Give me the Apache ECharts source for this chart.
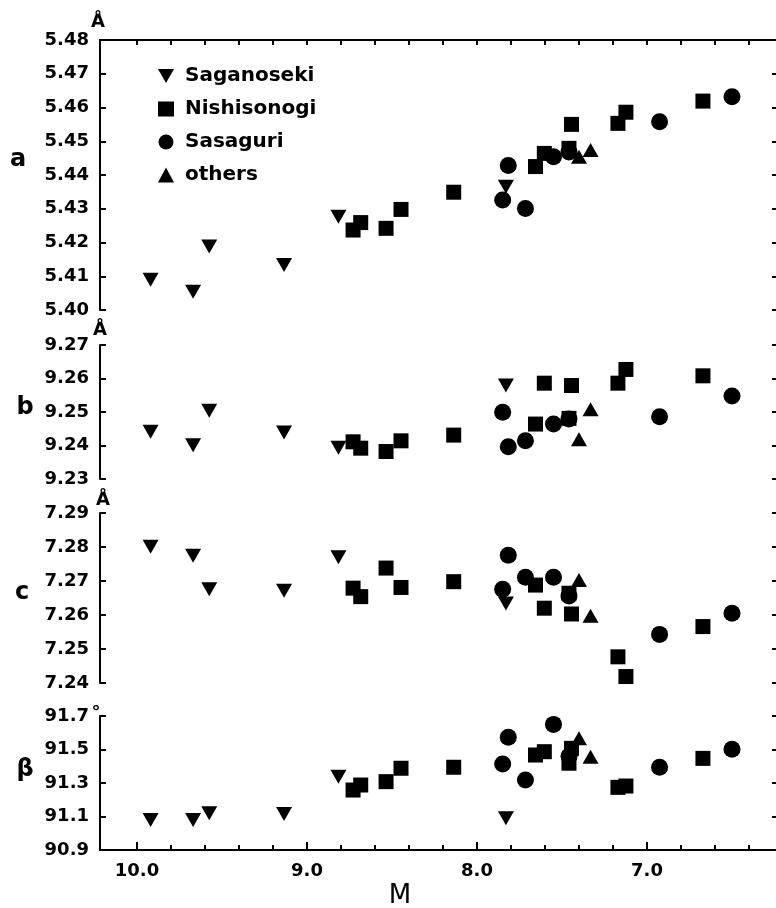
<!DOCTYPE html>
<html>
<head>
<meta charset="utf-8">
<script src="https://cdn.jsdelivr.net/npm/echarts@6/dist/echarts.min.js"></script>
<style>
html,body{margin:0;padding:0;background:#fff;}
#chart{width:776px;height:908px;}
</style>
</head>
<body>
<div id="chart"></div>
<script>
// ---- data (M on x; lattice parameters a, b, c, beta on y) ----
const sagM    = [9.92, 9.67, 9.575, 9.135, 8.815, 7.83];
const sagA    = [5.409, 5.4054, 5.4188, 5.4133, 5.4276, 5.4365];
const sagB    = [9.2441, 9.2401, 9.2504, 9.2439, 9.2393, 9.2579];
const sagC    = [7.2801, 7.2774, 7.2676, 7.2671, 7.277, 7.2634];
const sagBeta = [91.079, 91.079, 91.119, 91.115, 91.338, 91.089];

const nisM    = [8.729, 8.684, 8.535, 8.447, 8.137, 7.656, 7.604, 7.459, 7.444, 7.171, 7.124, 6.671];
const nisA    = [5.4237, 5.4259, 5.4242, 5.4298, 5.4349, 5.4425, 5.4464, 5.4479, 5.455, 5.4553, 5.4586, 5.4619];
const nisB    = [9.2411, 9.2392, 9.2382, 9.2414, 9.2431, 9.2464, 9.2586, 9.2481, 9.2579, 9.2586, 9.2627, 9.2608];
const nisC    = [7.2679, 7.2654, 7.2738, 7.2681, 7.2698, 7.2688, 7.262, 7.2664, 7.2603, 7.2477, 7.2419, 7.2566];
const nisBeta = [91.258, 91.288, 91.308, 91.388, 91.394, 91.467, 91.487, 91.418, 91.507, 91.274, 91.282, 91.447];

const sasM    = [7.849, 7.816, 7.715, 7.55, 7.459, 6.926, 6.5];
const sasA    = [5.4326, 5.4428, 5.4301, 5.4454, 5.4468, 5.4558, 5.4632];
const sasB    = [9.2499, 9.2396, 9.2414, 9.2464, 9.2479, 9.2486, 9.2548];
const sasC    = [7.2676, 7.2776, 7.2711, 7.2711, 7.2656, 7.2543, 7.2605];
const sasBeta = [91.413, 91.573, 91.318, 91.65, 91.46, 91.394, 91.501];

const othM    = [7.4, 7.332];
const othA    = [5.4454, 5.4474];
const othB    = [9.2419, 9.2508];
const othC    = [7.2703, 7.2598];
const othBeta = [91.567, 91.457];

const seriesNames = ['Saganoseki', 'Nishisonogi', 'Sasaguri', 'others'];
const panelLetters = ['a', 'b', 'c', 'β'];

// tick values
const xMajorTicks = [7, 8, 9, 10];
const xMinorTicks = [6.4, 6.6, 6.8, 7.0, 7.2, 7.4, 7.6, 7.8, 8.0, 8.2, 8.4, 8.6, 8.8, 9.0, 9.2, 9.4, 9.6, 9.8, 10.0];
const aTicks    = [5.40, 5.41, 5.42, 5.43, 5.44, 5.45, 5.46, 5.47, 5.48];
const bTicks    = [9.23, 9.24, 9.25, 9.26, 9.27];
const cTicks    = [7.24, 7.25, 7.26, 7.27, 7.28, 7.29];
const betaTicks = [90.9, 91.1, 91.3, 91.5, 91.7];

// ---- layout ----
const X_MIN = 6.2412, X_MAX = 10.2176;
const grids = [
  {left: 100, right: 0, top: 40,  height: 270},
  {left: 100, right: 0, top: 345, height: 134},
  {left: 100, right: 0, top: 513, height: 170},
  {left: 100, right: 0, top: 716, height: 134}
];
const yRanges = [[5.40, 5.48], [9.23, 9.27], [7.24, 7.29], [90.9, 91.7]];
const yTickSets = [aTicks, bTicks, cTicks, betaTicks];
const yDecimals = [2, 2, 2, 1];

const FONT = 'DejaVu Sans';
const labelStyle = {color: '#000', fontFamily: FONT, fontWeight: 'bold', fontSize: 18};

const xAxes = [];
const yAxes = [];
grids.forEach((g, i) => {
  xAxes.push({type: 'value', gridIndex: i, min: X_MIN, max: X_MAX, inverse: true, show: false});
  yAxes.push({
    type: 'value', gridIndex: i, position: 'left',
    min: yRanges[i][0], max: yRanges[i][1],
    splitLine: {show: false},
    axisLine: {show: true, lineStyle: {color: '#000', width: 2}},
    axisTick: {show: true, inside: true, length: 6, lineStyle: {color: '#000', width: 2}, customValues: yTickSets[i]},
    axisLabel: {show: true, margin: 11, ...labelStyle, customValues: yTickSets[i],
      formatter: v => Number(v).toFixed(yDecimals[i])}
  });
  yAxes.push({
    type: 'value', gridIndex: i, position: 'right',
    min: yRanges[i][0], max: yRanges[i][1],
    splitLine: {show: false},
    axisLine: {show: false},
    axisTick: {show: true, inside: true, length: 4, lineStyle: {color: '#000', width: 2}, customValues: yTickSets[i]},
    axisLabel: {show: false}
  });
});
xAxes.push({
  type: 'value', gridIndex: 0, position: 'top', min: X_MIN, max: X_MAX, inverse: true,
  splitLine: {show: false},
  axisLine: {show: true, onZero: false, lineStyle: {color: '#000', width: 2}},
  axisTick: {show: true, inside: true, length: 5, lineStyle: {color: '#000', width: 2}, customValues: xMinorTicks},
  axisLabel: {show: false}
});
xAxes.push({
  type: 'value', gridIndex: 3, position: 'bottom', min: X_MIN, max: X_MAX, inverse: true,
  splitLine: {show: false},
  axisLine: {show: true, onZero: false, lineStyle: {color: '#000', width: 2}},
  axisTick: {show: true, inside: true, length: 5, lineStyle: {color: '#000', width: 2}, customValues: xMinorTicks},
  axisLabel: {show: false}
});
xAxes.push({
  type: 'value', gridIndex: 3, position: 'bottom', min: X_MIN, max: X_MAX, inverse: true,
  splitLine: {show: false},
  axisLine: {show: false, onZero: false},
  axisTick: {show: true, inside: true, length: 8, lineStyle: {color: '#000', width: 2}, customValues: xMajorTicks},
  axisLabel: {show: true, margin: 12, ...labelStyle, customValues: xMajorTicks,
    formatter: v => Number(v).toFixed(1)}
});

const symbols = {
  'Saganoseki': {symbol: 'path://M0,0L16,0L8,14Z', size: [16, 14]},
  'Nishisonogi': {symbol: 'rect', size: 15},
  'Sasaguri': {symbol: 'circle', size: 17},
  'others': {symbol: 'triangle', size: [16, 14]}
};
const sets = {
  'Saganoseki': [sagM, [sagA, sagB, sagC, sagBeta]],
  'Nishisonogi': [nisM, [nisA, nisB, nisC, nisBeta]],
  'Sasaguri': [sasM, [sasA, sasB, sasC, sasBeta]],
  'others': [othM, [othA, othB, othC, othBeta]]
};
const series = [];
for (let p = 0; p < 4; p++) {
  seriesNames.forEach(name => {
    const [xs, ys] = sets[name];
    series.push({
      type: 'scatter', name: name,
      xAxisIndex: p, yAxisIndex: p * 2,
      symbol: symbols[name].symbol, symbolSize: symbols[name].size,
      itemStyle: {color: '#000', opacity: 1},
      emphasis: {disabled: true},
      data: xs.map((x, k) => [x, ys[p][k]])
    });
  });
}

const letterPos = [[18, 160], [25, 408], [22, 593], [25, 770]];
const graphic = [];
panelLetters.forEach((t, i) => {
  graphic.push({type: 'text', x: letterPos[i][0], y: letterPos[i][1],
    style: {text: t, fill: '#000', font: 'bold 24px "DejaVu Sans"', textAlign: 'center', textVerticalAlign: 'middle'}});
});
[[98, 22], [100, 330], [103, 500]].forEach(p => {
  graphic.push({type: 'text', x: p[0], y: p[1],
    style: {text: 'Å', fill: '#000', font: 'bold 18px "DejaVu Sans"', textAlign: 'center', textVerticalAlign: 'middle'}});
});
graphic.push({type: 'text', x: 96, y: 713,
  style: {text: '°', fill: '#000', font: 'bold 18px "DejaVu Sans"', textAlign: 'center', textVerticalAlign: 'middle'}});
graphic.push({type: 'text', x: 400, y: 896,
  style: {text: 'M', fill: '#000', font: '26px "DejaVu Sans"', textAlign: 'center', textVerticalAlign: 'middle'}});

const chart = echarts.init(document.getElementById('chart'), null, {renderer: 'canvas'});
chart.setOption({
  backgroundColor: '#fff',
  animation: false,
  grid: grids,
  xAxis: xAxes,
  yAxis: yAxes,
  legend: {
    data: seriesNames.map(n => ({name: n, icon: symbols[n].symbol})),
    orient: 'vertical', left: 153, top: 61,
    itemWidth: 16, itemHeight: 15, itemGap: 13,
    selectedMode: false,
    textStyle: {color: '#000', fontFamily: FONT, fontWeight: 'bold', fontSize: 20, lineHeight: 20, padding: [0, 0, 0, 6]}
  },
  graphic: graphic,
  series: series
});
</script>
</body>
</html>
